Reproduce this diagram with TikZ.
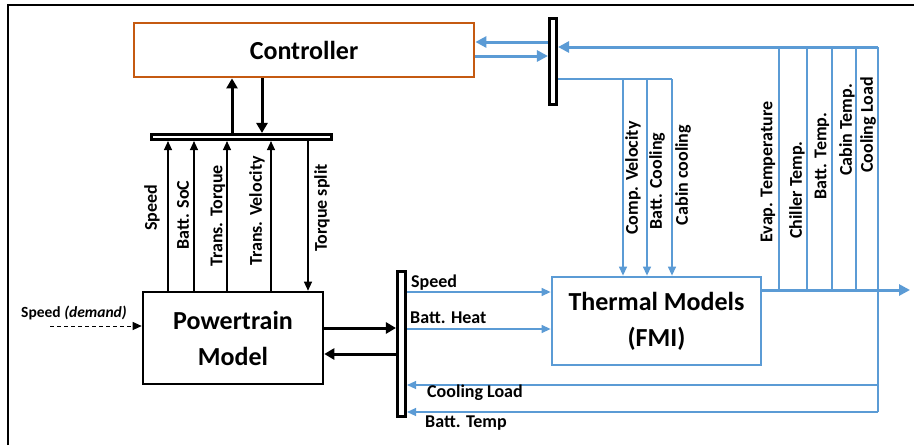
\documentclass[tikz,border=0pt]{standalone}
\usepackage{fontspec}
\setmainfont{Carlito}
\usetikzlibrary{arrows.meta}
\definecolor{corange}{RGB}{197,90,17}
\definecolor{cblue}{RGB}{91,155,213}
\begin{document}
\begin{tikzpicture}[x=1pt,y=-1pt,
  lab/.style={font=\fontsize{18}{21}\selectfont\bfseries, inner sep=0pt},
  rlab/.style={lab, rotate=90},
  big/.style={font=\fontsize{26}{36}\selectfont\bfseries, align=center},
  busbar/.style={draw=black, line width=2.6pt, fill=white, inner sep=0pt},
  blk/.style={line width=1.1pt, -{Triangle[length=9pt,width=8pt]}},
  blkthick/.style={line width=3pt, -{Triangle[length=10pt,width=11pt]}},
  bl/.style={cblue, line width=1.3pt},
  bla/.style={bl, -{Triangle[length=9pt,width=8pt]}},
  blthick/.style={cblue, line width=3pt, -{Triangle[length=11pt,width=11pt]}}
]
\useasboundingbox (0,0) rectangle (914,445);
\fill[white] (0,0) rectangle (914,445);
% frame
\draw[line width=2.5pt] (8,445) -- (8,5) -- (914,5);

% boxes
\node[draw=corange, line width=2.8pt, minimum width=340pt, minimum height=54pt, inner sep=0pt, big] (ctrl) at (304,50) {Controller};
\node[draw=black, line width=2.6pt, minimum width=180pt, minimum height=92pt, inner sep=0pt, big] (pt) at (233,338) {Powertrain\\Model};
\node[draw=cblue, line width=2.8pt, minimum width=209pt, minimum height=88pt, inner sep=0pt, big] (th) at (656.5,321) {Thermal Models\\(FMI)};

% bus bars
\node[busbar, minimum width=180pt, minimum height=5.5pt] (tb) at (241.5,137) {};
\node[busbar, minimum width=8.5pt, minimum height=145pt] (lb) at (401.5,344) {};
\node[busbar, minimum width=7.5pt, minimum height=86pt] (rb) at (553,61.5) {};

% controller <-> top bus
\draw[blkthick] (tb.north -| 232,0) -- (ctrl.south -| 232,0);
\draw[blkthick] (ctrl.south -| 262,0) -- (tb.north -| 262,0);

% powertrain -> top bus
\draw[blk] (pt.north -| 168,0) -- (tb.south -| 168,0);
\draw[blk] (pt.north -| 194,0) -- (tb.south -| 194,0);
\draw[blk] (pt.north -| 227,0) -- (tb.south -| 227,0);
\draw[blk] (pt.north -| 271,0) -- (tb.south -| 271,0);
\draw[blk] (tb.south -| 308,0) -- (pt.north -| 308,0);

\node[rlab] (l1) at (152,208) {Speed};
\node[rlab] (l2) at (183,215) {Batt. SoC};
\node[rlab] (l3) at (218,216) {Trans. Torque};
\node[rlab] (l4) at (257,211) {Trans. Velocity};
\node[rlab] (l5) at (322,208) {Torque split};

% speed demand
\node[font=\fontsize{15.5}{18}\selectfont\bfseries, inner sep=0pt, anchor=west] (sd) at (21,313) {Speed \textit{(demand)}};
\coordinate (sdstart) at (50,326);
\draw[line width=1pt, dashed, dash pattern=on 4pt off 3pt, -{Triangle[length=9pt,width=8pt]}] (sdstart) -- (pt.west |- sdstart);

% powertrain <-> left bus
\draw[blkthick] (pt.east |- 0,328) -- (lb.west |- 0,328);
\draw[blkthick] (lb.west |- 0,354) -- (pt.east |- 0,354);

% left bus -> thermal
\draw[bla] (lb.east |- 0,292) -- (th.west |- 0,292);
\draw[bla] (lb.east |- 0,329) -- (th.west |- 0,329);
\node[lab, anchor=west] (s1) at (411,283) {Speed};
\node[lab, anchor=west] (s2) at (410,318) {Batt. Heat};

% right return lines
\coordinate (rt) at (878,47);
\coordinate (rcl) at (878,385);
\coordinate (rbt) at (878,412);
\draw[bl] (rt) -- (rbt);
\draw[bla] (rcl) -- (lb.east |- rcl);
\draw[bla] (rbt) -- (lb.east |- rbt);
\node[lab, anchor=west] (s3) at (427,393) {Cooling Load};
\node[lab, anchor=west] (s4) at (425,423) {Batt. Temp};

% top thick line into right bus
\draw[blthick] (rt) -- (rb.east |- rt);

% controller <-> right bus
\draw[blthick] (rb.west |- 0,42) -- (ctrl.east |- 0,42);
\draw[blthick] (ctrl.east |- 0,56) -- (rb.west |- 0,56);

% right bus -> thermal inputs
\coordinate (c3) at (672,79);
\draw[bl] (rb.east |- c3) -- (c3);
\draw[bla] (623,79) -- (th.north -| 623,0);
\draw[bla] (647,79) -- (th.north -| 647,0);
\draw[bla] (c3) -- (th.north -| c3);
\node[rlab] (t1) at (633,178) {Comp. Velocity};
\node[rlab] (t2) at (657,181) {Batt. Cooling};
\node[rlab] (t3) at (683,175) {Cabin cooling};

% thermal outputs
\coordinate (oend) at (910,290);
\draw[blthick] (th.east |- oend) -- (oend);
\foreach \x in {779,807,832,856} \draw[bl] (\x,47) -- (\x,290);
\node[rlab] (o1) at (768,172) {Evap. Temperature};
\node[rlab] (o2) at (797,190) {Chiller Temp.};
\node[rlab] (o3) at (822,156) {Batt. Temp.};
\node[rlab] (o4) at (847,130) {Cabin Temp.};
\node[rlab] (o5) at (868,125) {Cooling Load};
\end{tikzpicture}
\end{document}
